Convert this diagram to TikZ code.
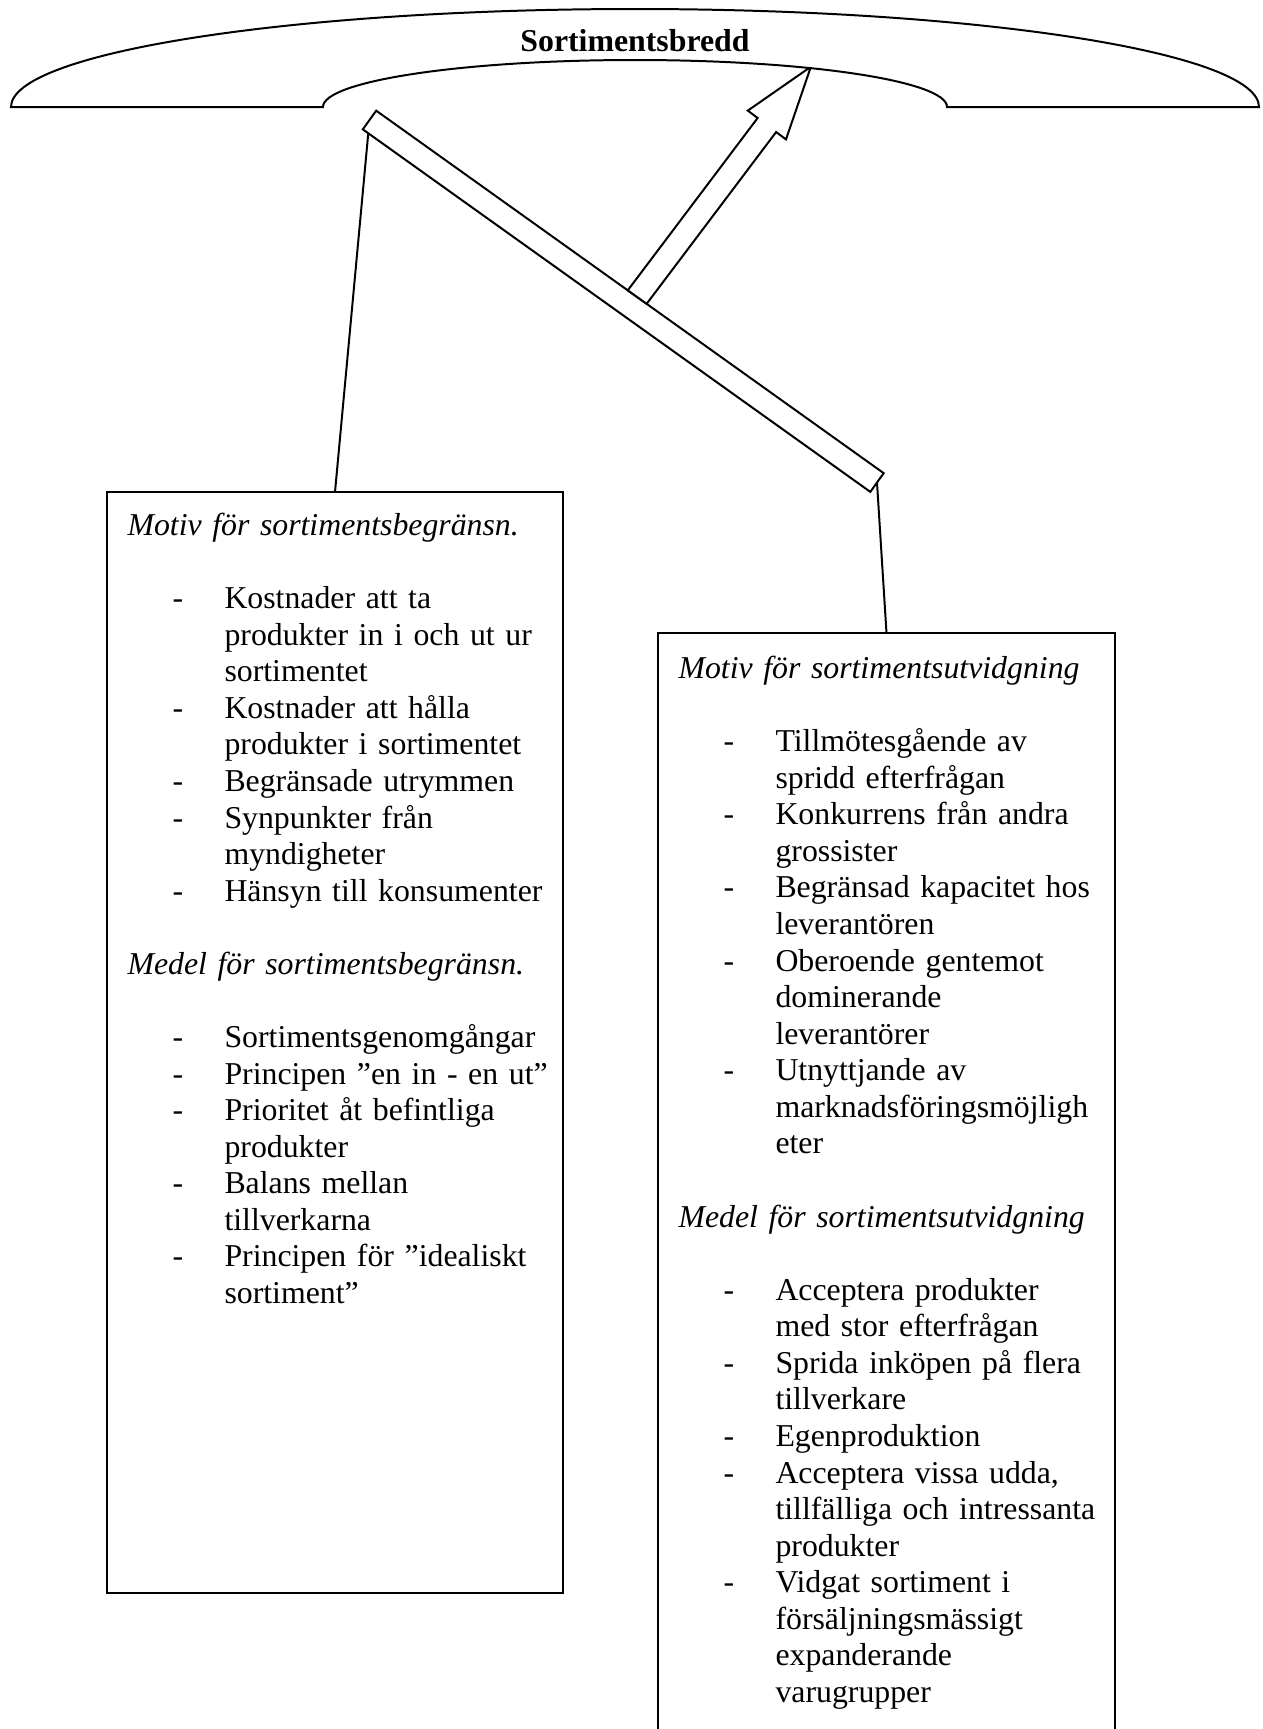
\documentclass[tikz,border=0pt]{standalone}
\usepackage{fontspec}
\setmainfont{Liberation Serif}
\usetikzlibrary{calc}

% list layout inside the two boxes
\newcommand{\rubrik}[1]{\par\noindent\strut\textit{#1}\par}
\newcommand{\tomrad}{\vspace{13.8pt}}
\newcommand{\punkt}[1]{\par\hangindent=36.6pt\hangafter=1\noindent\hspace*{17pt}\makebox[19.6pt][l]{-}#1\par}

\begin{document}
\begin{tikzpicture}[x=0.37736pt, y=0.37736pt]

        \tikzset{
            linje/.style={line width=0.75pt, line join=miter},
            textblock/.style={inner sep=0pt, text width=6.6cm, align=left, anchor=north west,
                font=\fontsize{12pt}{13.8pt}\selectfont}
        }

        % 0. Page frame
        \useasboundingbox (0,0) rectangle (1263,-1729);
        \clip (0,0) rectangle (1263,-1729);

        % 1. Define the coordinates of the two boxes
        \coordinate (VO) at (107,-492);   % left box, top left
        \coordinate (VU) at (563,-1593);  % left box, bottom right
        \coordinate (HO) at (658,-633);   % right box, top left
        \coordinate (HU) at (1115,-1760); % right box, bottom right (below the page)

        \coordinate (Vtopp) at ($(VO)!0.5!(VO-|VU)$); % middle of top edge
        \coordinate (Htopp) at ($(HO)!0.5!(HO-|HU)$);

        % Bar (ends and corners)
        \coordinate (SO) at (369.5,-120);  % upper end
        \coordinate (SN) at (877,-482.5);  % lower end
        \coordinate (SO1) at ($(SO)!4.34pt!90:(SN)$);
        \coordinate (SO2) at ($(SO)!4.34pt!-90:(SN)$);
        \coordinate (SN1) at ($(SN)!4.34pt!-90:(SO)$);
        \coordinate (SN2) at ($(SN)!4.34pt!90:(SO)$);

        % Block arrow (tip, head, shaft)
        \coordinate (spets) at (810.9,-66.7);
        \coordinate (pilmitt) at (766.9,-125);
        \coordinate (hake1) at ($(pilmitt)!9.02pt!90:(spets)$);
        \coordinate (hake2) at ($(pilmitt)!9.02pt!-90:(spets)$);
        \coordinate (hals1) at ($(pilmitt)!4.38pt!90:(spets)$);
        \coordinate (hals2) at ($(pilmitt)!4.38pt!-90:(spets)$);
        \coordinate (pilfot) at (intersection of spets--pilmitt and SO1--SN1);
        \coordinate (hals1b) at ($(pilfot)!4.38pt!90:(spets)$);
        \coordinate (hals2b) at ($(pilfot)!4.38pt!-90:(spets)$);
        \coordinate (fot1) at (intersection of hals1--hals1b and SO1--SN1);
        \coordinate (fot2) at (intersection of hals2--hals2b and SO1--SN1);

        % 2. Draw the boxes
        \draw[linje] (VO) rectangle (VU);
        \draw[linje] (HO) rectangle (HU);

        % 3. Draw the connectors from the bar to the boxes
        \draw[linje] (SO) -- (Vtopp);
        \draw[linje] (SN) -- (Htopp);

        % 4. Draw the bar and the arrow up to the arc
        \draw[linje, fill=white] (SO1) -- (SN1) -- (SN2) -- (SO2) -- cycle;
        \draw[linje, fill=white] (fot1) -- (hals1) -- (hake1) -- (spets) -- (hake2) -- (hals2) -- (fot2) -- cycle;

        % 5. Draw the arc band at the top
        \draw[linje, fill=white] (11,-107) arc[start angle=180, end angle=0, x radius=624, y radius=98]
            -- (947,-107) arc[start angle=0, end angle=180, x radius=312, y radius=47] -- cycle;
        \node[anchor=base, font=\fontsize{12pt}{13.8pt}\selectfont\bfseries] (bredd) at (635,-51) {Sortimentsbredd};

        % 6. Texts in the boxes
        \node[textblock] (begransning) at (127,-498.4) {%
            \rubrik{Motiv för sortimentsbegränsn.}
            \tomrad
            \punkt{Kostnader att ta\newline produkter in i och ut ur\newline sortimentet}
            \punkt{Kostnader att hålla\newline produkter i sortimentet}
            \punkt{Begränsade utrymmen}
            \punkt{Synpunkter från\newline myndigheter}
            \punkt{Hänsyn till konsumenter}
            \tomrad
            \rubrik{Medel för sortimentsbegränsn.}
            \tomrad
            \punkt{Sortimentsgenomgångar}
            \punkt{Principen ”en in - en ut”}
            \punkt{Prioritet åt befintliga\newline produkter}
            \punkt{Balans mellan\newline tillverkarna}
            \punkt{Principen för ”idealiskt\newline sortiment”}
        };

        \node[textblock] (utvidgning) at (678,-641.4) {%
            \rubrik{Motiv för sortimentsutvidgning}
            \tomrad
            \punkt{Tillmötesgående av\newline spridd efterfrågan}
            \punkt{Konkurrens från andra\newline grossister}
            \punkt{Begränsad kapacitet hos\newline leverantören}
            \punkt{Oberoende gentemot\newline dominerande\newline leverantörer}
            \punkt{Utnyttjande av\newline marknadsföringsmöjligh\newline eter}
            \tomrad
            \rubrik{Medel för sortimentsutvidgning}
            \tomrad
            \punkt{Acceptera produkter\newline med stor efterfrågan}
            \punkt{Sprida inköpen på flera\newline tillverkare}
            \punkt{Egenproduktion}
            \punkt{Acceptera vissa udda,\newline tillfälliga och intressanta\newline produkter}
            \punkt{Vidgat sortiment i\newline försäljningsmässigt\newline expanderande\newline varugrupper}
        };

    \end{tikzpicture}
\end{document}
